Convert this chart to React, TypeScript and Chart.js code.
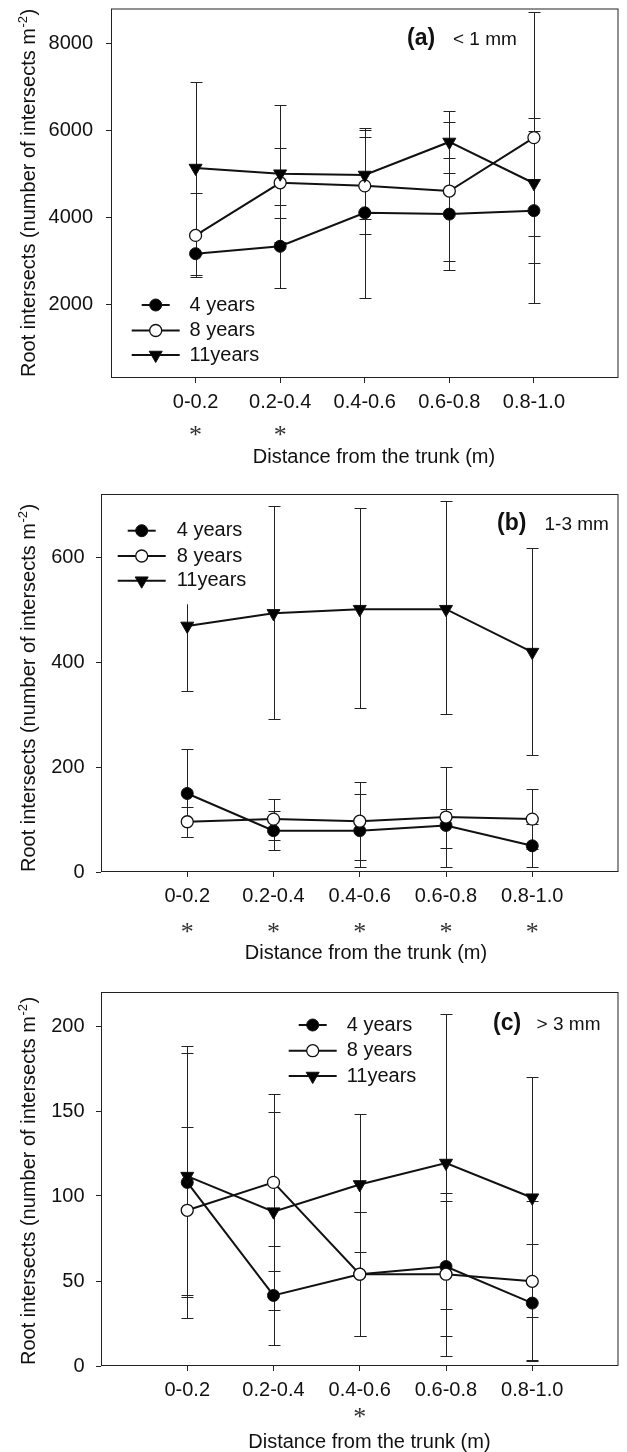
import React, { useEffect, useRef } from "react";
import { Chart, registerables } from "chart.js";

Chart.register(...registerables);

const FONT = "'Liberation Sans', Arial, Helvetica, sans-serif";
const SERIF = "'Liberation Serif', 'Times New Roman', serif";
const INK = "#111111";

// ---------------- data ----------------
const categories = ["0-0.2", "0.2-0.4", "0.4-0.6", "0.6-0.8", "0.8-1.0"];
const seriesNames = ["4 years", "8 years", "11years"];
const xTitle = "Distance from the trunk (m)";
const yTitleMain = "Root intersects (number of intersects m";
const yTitleSup = "-2";
const yTitleEnd = ")";

// (a) < 1 mm
const aTag = "(a)";
const aSize = "< 1 mm";
const aYRange = [300, 8800];
const aYTicks = [2000, 4000, 6000, 8000];
const a4Mean = [3160, 3330, 4100, 4070, 4150];
const a4Upper = [3655, 4290, 6055, 5360, 6290];
const a4Lower = [2660, 2375, 2145, 2790, 2015];
const a8Mean = [3580, 4790, 4720, 4600, 5830];
const a8Upper = [4560, 5595, 5845, 6180, 8720];
const a8Lower = [2625, 3990, 3620, 2980, 2935];
const a11Mean = [5130, 5000, 4970, 5730, 4780];
const a11Upper = [7110, 6575, 6015, 6445, 5985];
const a11Lower = [3150, 3425, 3960, 5025, 3570];
const aStars = ["0-0.2", "0.2-0.4"];

// (b) 1-3 mm
const bTag = "(b)";
const bSize = "1-3 mm";
const bYRange = [0, 722];
const bYTicks = [0, 200, 400, 600];
const b4Mean = [150, 79, 79, 89, 50];
const b4Upper = [235, 116, 149, 121, 91];
const b4Lower = [66, 42, 10, 46, 9];
const b8Mean = [96, 101, 97, 105, 101];
const b8Upper = [125, 140, 171, 200, 159];
const b8Lower = [67, 62, 22, 10, 43];
const b11Mean = [470, 494, 502, 502, 420];
const b11Upper = [595, 699, 695, 709, 618];
const b11Lower = [345, 293, 314, 301, 224];
const bStars = ["0-0.2", "0.2-0.4", "0.4-0.6", "0.6-0.8", "0.8-1.0"];

// (c) > 3 mm
const cTag = "(c)";
const cSize = "> 3 mm";
const cYRange = [0, 220];
const cYTicks = [0, 50, 100, 150, 200];
const c4Mean = [108, 41.5, 54, 58.5, 37];
const c4Upper = [188, 70.5, 90.7, 97, 71.7];
const c4Lower = [28, 12.5, 17.4, 17.4, 3.5];
const c8Mean = [91.6, 108, 54, 54, 49.8];
const c8Upper = [140.3, 159.8, 90.7, 102, 97];
const c8Lower = [42, 56, 17.4, 5.7, 2.8];
const c11Mean = [111.7, 90.8, 106.8, 119.4, 99];
const c11Upper = [184, 149.5, 148.4, 207.3, 169.8];
const c11Lower = [40.4, 33, 67.2, 33.6, 29.1];
const cStars = ["0.4-0.6"];

// ---------------- styles / layout ----------------
const seriesStyles = [
  { shape: "circle", r: 6, fill: "#000000", bw: 1, order: 3, legHalf: 14 },
  { shape: "circle", r: 6, fill: "#ffffff", bw: 1.3, order: 2, legHalf: 24 },
  { shape: "triangle", r: 7.5, fill: "#000000", bw: 1, order: 1, legHalf: 24 },
];

type Geo = {
  canvasTop: number; canvasHeight: number;
  left: number; top: number; right: number; bottom: number;
  yTickPad: number;
  yTitleX: number; yTitleBottom: number;
  xTitleX: number; xTitleBase: number; starY: number;
  tagX: number; sizeX: number; tagBase: number;
  legX: number; legRows: number[]; legTextX: number;
};

const geoA: Geo = {
  canvasTop: 0, canvasHeight: 480,
  left: 111, top: 8, right: 623, bottom: 378,
  yTickPad: 13,
  yTitleX: 35, yTitleBottom: 377,
  xTitleX: 374, xTitleBase: 462.5, starY: 430.5,
  tagX: 407, sizeX: 453, tagBase: 45,
  legX: 155.7, legRows: [305, 330.5, 355], legTextX: 189.5,
};
const geoB: Geo = {
  canvasTop: 480, canvasHeight: 495,
  left: 101, top: 494, right: 623, bottom: 872,
  yTickPad: 11.5,
  yTitleX: 35, yTitleBottom: 872,
  xTitleX: 366, xTitleBase: 959.3, starY: 927.5,
  tagX: 497, sizeX: 544.5, tagBase: 530,
  legX: 141.7, legRows: [530.7, 556, 580.7], legTextX: 176.7,
};
const geoC: Geo = {
  canvasTop: 975, canvasHeight: 477,
  left: 101, top: 992, right: 623, bottom: 1366,
  yTickPad: 11.5,
  yTitleX: 35, yTitleBottom: 1365,
  xTitleX: 369.4, xTitleBase: 1447.6, starY: 1413,
  tagX: 493, sizeX: 536.6, tagBase: 1030,
  legX: 312.7, legRows: [1025, 1050.7, 1076], legTextX: 346.7,
};

type Spec = {
  tag: string; size: string;
  yRange: number[]; yTicks: number[];
  means: number[][]; uppers: number[][]; lowers: number[][];
  stars: string[]; geo: Geo;
};

const panels: Spec[] = [
  { tag: aTag, size: aSize, yRange: aYRange, yTicks: aYTicks,
    means: [a4Mean, a8Mean, a11Mean], uppers: [a4Upper, a8Upper, a11Upper], lowers: [a4Lower, a8Lower, a11Lower],
    stars: aStars, geo: geoA },
  { tag: bTag, size: bSize, yRange: bYRange, yTicks: bYTicks,
    means: [b4Mean, b8Mean, b11Mean], uppers: [b4Upper, b8Upper, b11Upper], lowers: [b4Lower, b8Lower, b11Lower],
    stars: bStars, geo: geoB },
  { tag: cTag, size: cSize, yRange: cYRange, yTicks: cYTicks,
    means: [c4Mean, c8Mean, c11Mean], uppers: [c4Upper, c8Upper, c11Upper], lowers: [c4Lower, c8Lower, c11Lower],
    stars: cStars, geo: geoC },
];

function drawMarker(ctx: CanvasRenderingContext2D, shape: string, x: number, y: number, r: number, fill: string, bw: number) {
  ctx.beginPath();
  if (shape === "circle") {
    ctx.arc(x, y, r, 0, Math.PI * 2);
  } else {
    ctx.moveTo(x, y + r);
    ctx.lineTo(x - 0.866 * r, y - 0.5 * r);
    ctx.lineTo(x + 0.866 * r, y - 0.5 * r);
    ctx.closePath();
  }
  ctx.fillStyle = fill;
  ctx.fill();
  ctx.lineWidth = bw;
  ctx.strokeStyle = INK;
  ctx.stroke();
}

function makeConfig(spec: Spec): any {
  const g = spec.geo;
  const H = g.canvasHeight;
  const relTop = g.top - g.canvasTop;
  const relBottom = g.bottom - g.canvasTop;
  const xAxisH = 40;
  const tickFont = { family: FONT, size: 20 };

  const datasets = spec.means.map((m, si) => {
    const st = seriesStyles[si];
    return {
      label: seriesNames[si],
      data: m.map((v, i) => ({ x: i, y: v })),
      borderColor: INK,
      borderWidth: 2,
      tension: 0,
      fill: false,
      pointStyle: st.shape,
      pointRadius: st.r,
      pointHoverRadius: st.r,
      pointRotation: st.shape === "triangle" ? 180 : 0,
      pointBackgroundColor: st.fill,
      pointBorderColor: INK,
      pointBorderWidth: st.bw,
      order: st.order,
      clip: false,
    };
  });

  const decor = {
    id: "decor" + spec.tag,
    beforeDatasetsDraw(chart: any) {
      const ctx = chart.ctx as CanvasRenderingContext2D;
      const xs = chart.scales.x;
      const ys = chart.scales.y;
      ctx.save();
      ctx.strokeStyle = "#222222";
      ctx.lineWidth = 1;
      spec.means.forEach((m, si) => {
        m.forEach((_, i) => {
          const x = Math.round(xs.getPixelForValue(i)) + 0.5;
          const yu = Math.round(ys.getPixelForValue(spec.uppers[si][i])) + 0.5;
          const yl = Math.round(ys.getPixelForValue(spec.lowers[si][i])) + 0.5;
          ctx.beginPath();
          ctx.moveTo(x, yu);
          ctx.lineTo(x, yl);
          ctx.moveTo(x - 6, yu);
          ctx.lineTo(x + 6, yu);
          ctx.moveTo(x - 6, yl);
          ctx.lineTo(x + 6, yl);
          ctx.stroke();
        });
      });
      ctx.restore();
    },
    afterDraw(chart: any) {
      const ctx = chart.ctx as CanvasRenderingContext2D;
      const ca = chart.chartArea;
      const off = g.canvasTop;
      const xs = chart.scales.x;
      ctx.save();

      // legend (white box hides what lies beneath it)
      const legTop = g.legRows[0] - 22 - off;
      const legBottom = Math.min(g.legRows[2] + 23.6 - off, ca.bottom - 2);
      ctx.font = `20px ${FONT}`;
      let maxW = 0;
      seriesNames.forEach((n) => { maxW = Math.max(maxW, ctx.measureText(n).width); });
      ctx.fillStyle = "#ffffff";
      ctx.fillRect(g.legX - 30, legTop, g.legTextX + maxW + 6 - (g.legX - 30), legBottom - legTop);
      seriesNames.forEach((n, si) => {
        const st = seriesStyles[si];
        const y = g.legRows[si] - off;
        ctx.strokeStyle = INK;
        ctx.lineWidth = 2;
        ctx.beginPath();
        ctx.moveTo(g.legX - st.legHalf, y);
        ctx.lineTo(g.legX + st.legHalf, y);
        ctx.stroke();
        drawMarker(ctx, st.shape, g.legX, y, st.r, st.fill, st.bw);
        ctx.fillStyle = INK;
        ctx.font = `20px ${FONT}`;
        ctx.textAlign = "left";
        ctx.textBaseline = "middle";
        ctx.fillText(n, g.legTextX, y);
      });

      // frame
      ctx.strokeStyle = "#222222";
      ctx.lineWidth = 1;
      ctx.strokeRect(ca.left + 0.5, ca.top + 0.5, ca.right - ca.left - 1, ca.bottom - ca.top - 1);

      // panel tag
      ctx.fillStyle = INK;
      ctx.textAlign = "left";
      ctx.textBaseline = "alphabetic";
      ctx.font = `bold 23px ${FONT}`;
      ctx.fillText(spec.tag, g.tagX, g.tagBase - off);
      ctx.font = `19px ${FONT}`;
      ctx.fillText(spec.size, g.sizeX, g.tagBase - off);

      // x title
      ctx.font = `20px ${FONT}`;
      ctx.textAlign = "center";
      ctx.fillText(xTitle, g.xTitleX, g.xTitleBase - off);

      // significance stars
      ctx.font = `26px ${SERIF}`;
      ctx.fillStyle = "#333333";
      const sm = ctx.measureText("*");
      const base = (sm.actualBoundingBoxAscent - sm.actualBoundingBoxDescent) / 2;
      spec.stars.forEach((lab) => {
        const idx = categories.indexOf(lab);
        const x = xs.getPixelForValue(idx);
        ctx.fillText("*", x, g.starY - off + base);
      });
      ctx.fillStyle = INK;

      // y title with superscript
      const mainF = `20px ${FONT}`;
      const supF = `13px ${FONT}`;
      ctx.font = mainF;
      const w1 = ctx.measureText(yTitleMain).width;
      ctx.font = supF;
      const ws = ctx.measureText(yTitleSup).width;
      ctx.translate(g.yTitleX, g.yTitleBottom - off);
      ctx.rotate(-Math.PI / 2);
      ctx.textAlign = "left";
      ctx.textBaseline = "alphabetic";
      ctx.font = mainF;
      ctx.fillText(yTitleMain, 0, 0);
      ctx.font = supF;
      ctx.fillText(yTitleSup, w1 + 0.5, -8);
      ctx.font = mainF;
      ctx.fillText(yTitleEnd, w1 + ws + 1, 0);
      ctx.restore();
    },
  };

  const zeroPad = (s: any) => {
    s.paddingLeft = 0; s.paddingRight = 0; s.paddingTop = 0; s.paddingBottom = 0;
  };

  return {
    type: "line",
    data: { datasets },
    options: {
      animation: false,
      responsive: false,
      devicePixelRatio: 1,
      events: [],
      layout: {
        padding: {
          left: 0,
          top: relTop,
          right: 627 - g.right,
          bottom: H - relBottom - xAxisH,
        },
      },
      plugins: { legend: { display: false }, tooltip: { enabled: false }, title: { display: false } },
      scales: {
        x: {
          type: "linear",
          min: -1,
          max: 5,
          afterBuildTicks: (s: any) => { s.ticks = categories.map((_, i) => ({ value: i })); },
          afterFit: (s: any) => { s.height = xAxisH; zeroPad(s); },
          ticks: {
            autoSkip: false,
            maxRotation: 0,
            minRotation: 0,
            padding: 7,
            color: INK,
            font: tickFont,
            callback: (_v: any, i: number) => categories[i],
          },
          grid: { display: true, drawOnChartArea: false, drawTicks: true, tickLength: 5, color: "#222222", lineWidth: 1 },
          border: { display: false },
        },
        y: {
          type: "linear",
          min: spec.yRange[0],
          max: spec.yRange[1],
          afterBuildTicks: (s: any) => { s.ticks = spec.yTicks.map((v) => ({ value: v })); },
          afterFit: (s: any) => { s.width = g.left; zeroPad(s); },
          ticks: {
            padding: g.yTickPad,
            color: INK,
            font: tickFont,
            callback: (v: any) => String(v),
          },
          grid: { display: true, drawOnChartArea: false, drawTicks: true, tickLength: 5, color: "#222222", lineWidth: 1 },
          border: { display: false },
        },
      },
    },
    plugins: [decor],
  };
}

function Panel({ spec }: { spec: Spec }) {
  const ref = useRef<HTMLCanvasElement | null>(null);
  useEffect(() => {
    if (!ref.current) return;
    const chart = new Chart(ref.current, makeConfig(spec));
    return () => chart.destroy();
  }, [spec]);
  return (
    <canvas
      ref={ref}
      width={627}
      height={spec.geo.canvasHeight}
      style={{ position: "absolute", left: 0, top: spec.geo.canvasTop, width: 627, height: spec.geo.canvasHeight, display: "block" }}
    />
  );
}

export default function App() {
  return (
    <div style={{ position: "absolute", left: 0, top: 0, width: 627, height: 1452, background: "#ffffff", overflow: "hidden" }}>
      {panels.map((p) => (
        <Panel key={p.tag} spec={p} />
      ))}
    </div>
  );
}
